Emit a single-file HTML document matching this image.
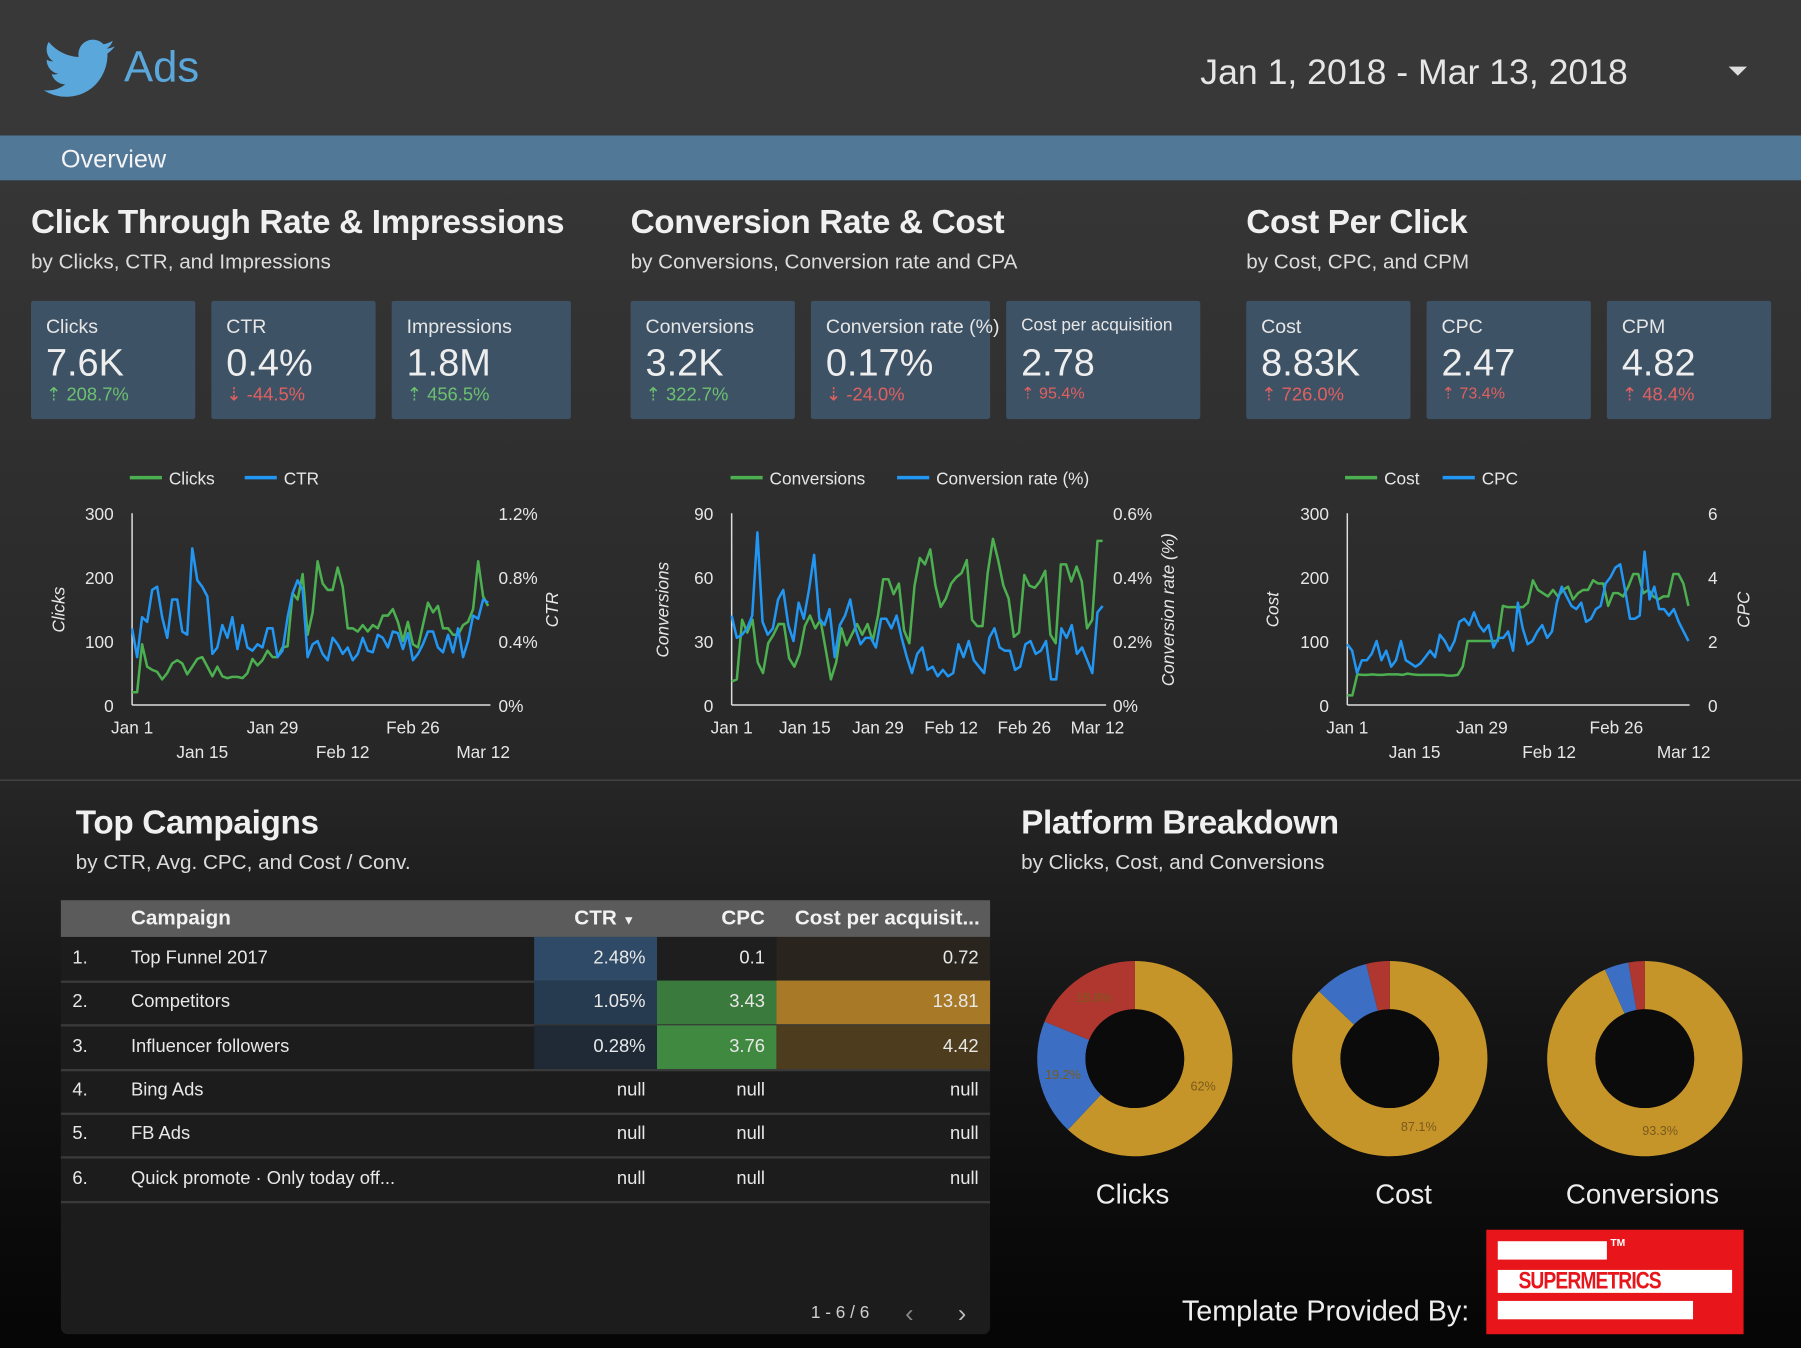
<!DOCTYPE html>
<html><head><meta charset="utf-8">
<style>
html,body{margin:0;padding:0;background:#0a0a0a;overflow:hidden;}
#root{position:absolute;left:0;top:0;width:1568px;height:1174px;transform:scale(1.14860,1.14821);transform-origin:0 0;
font-family:"Liberation Sans",sans-serif;color:#e8e8e8;
background:linear-gradient(#3a3a3a 0px,#2f2f2f 400px,#262626 680px,#141414 900px,#050505 1174px);overflow:hidden;}
.abs{position:absolute;}
.h2{font-size:29px;font-weight:bold;color:#f0f0f0;letter-spacing:-0.3px;}
.sub{font-size:18px;color:#dcdcdc;}
.card{position:absolute;top:262px;height:103px;background:#3e5265;border-radius:2px;}
.card .l{position:absolute;left:13px;top:13px;font-size:17px;color:#e6e6e6;white-space:nowrap;}
.card .v{position:absolute;left:13px;top:35px;font-size:33px;color:#eee;}
.card .d{position:absolute;left:13px;top:72px;font-size:16px;}
.up{color:#6cc070}.dn{color:#e06060}
svg text{font-family:"Liberation Sans",sans-serif;}
.row{position:absolute;left:53px;width:809px;height:38px;border-bottom:2px solid #3a3a3a;font-size:16px;}
.row div{position:absolute;top:0;height:38px;line-height:38px;}
</style></head><body>
<div id="root">
<div class="abs" style="left:0;top:0;width:1568px;height:118px;background:#383838"></div>
<svg class="abs" style="left:38px;top:34px" width="62" height="52" viewBox="0 0 24 20"><path fill="#5aa7db" d="M24 2.4a9.8 9.8 0 0 1-2.8.8A4.9 4.9 0 0 0 23.3.5a9.8 9.8 0 0 1-3.1 1.2A4.9 4.9 0 0 0 11.8 6 14 14 0 0 1 1.7.9a4.9 4.9 0 0 0 1.5 6.6 4.9 4.9 0 0 1-2.2-.6 4.9 4.9 0 0 0 3.9 4.8 4.9 4.9 0 0 1-2.2.1 4.9 4.9 0 0 0 4.6 3.4A9.9 9.9 0 0 1 0 17.2 14 14 0 0 0 7.5 19.4c9.1 0 14-7.5 14-14v-.6A10 10 0 0 0 24 2.4z"/></svg>
<div class="abs" style="left:108px;top:38px;font-size:38px;color:#5aa7db">Ads</div>
<div class="abs" style="left:1045px;top:45px;font-size:31px;color:#e6e6e6">Jan 1, 2018 - Mar 13, 2018</div>
<div class="abs" style="left:1505px;top:58px;width:0;height:0;border-left:8px solid transparent;border-right:8px solid transparent;border-top:8px solid #ddd"></div>
<div class="abs" style="left:0;top:118px;width:1568px;height:39px;background:#527898"></div>
<div class="abs" style="left:53px;top:126px;font-size:22px;color:#f4f4f4">Overview</div>

<div class="abs h2" style="left:27px;top:178px">Click Through Rate &amp; Impressions</div>
<div class="abs sub" style="left:27px;top:218px">by Clicks, CTR, and Impressions</div>
<div class="abs h2" style="left:549px;top:178px">Conversion Rate &amp; Cost</div>
<div class="abs sub" style="left:549px;top:218px">by Conversions, Conversion rate and CPA</div>
<div class="abs h2" style="left:1085px;top:178px">Cost Per Click</div>
<div class="abs sub" style="left:1085px;top:218px">by Cost, CPC, and CPM</div>

<div class="card" style="left:27px;width:143px"><div class="l">Clicks</div><div class="v">7.6K</div><div class="d up">⇡ 208.7%</div></div>
<div class="card" style="left:184px;width:143px"><div class="l">CTR</div><div class="v">0.4%</div><div class="d dn">⇣ -44.5%</div></div>
<div class="card" style="left:341px;width:156px"><div class="l">Impressions</div><div class="v">1.8M</div><div class="d up">⇡ 456.5%</div></div>
<div class="card" style="left:549px;width:143px"><div class="l">Conversions</div><div class="v">3.2K</div><div class="d up">⇡ 322.7%</div></div>
<div class="card" style="left:706px;width:156px"><div class="l">Conversion rate (%)</div><div class="v">0.17%</div><div class="d dn">⇣ -24.0%</div></div>
<div class="card" style="left:876px;width:169px"><div class="l" style="font-size:15px">Cost per acquisition</div><div class="v">2.78</div><div class="d dn" style="font-size:14px">⇡ 95.4%</div></div>
<div class="card" style="left:1085px;width:143px"><div class="l">Cost</div><div class="v">8.83K</div><div class="d dn">⇡ 726.0%</div></div>
<div class="card" style="left:1242px;width:143px"><div class="l">CPC</div><div class="v">2.47</div><div class="d dn" style="font-size:14px">⇡ 73.4%</div></div>
<div class="card" style="left:1399px;width:143px"><div class="l">CPM</div><div class="v">4.82</div><div class="d dn">⇡ 48.4%</div></div>

<svg id="charts" class="abs" style="left:0;top:0" width="1568" height="680"></svg>

<div class="abs" style="left:0;top:679px;width:1568px;height:1px;background:#4a4a4a"></div>

<div class="abs h2" style="left:66px;top:701px">Top Campaigns</div>
<div class="abs sub" style="left:66px;top:741px">by CTR, Avg. CPC, and Cost / Conv.</div>
<div class="abs h2" style="left:889px;top:701px">Platform Breakdown</div>
<div class="abs sub" style="left:889px;top:741px">by Clicks, Cost, and Conversions</div>

<div class="abs" style="left:53px;top:784px;width:809px;height:378px;background:#1c1c1c;border-radius:0 0 6px 6px"></div>
<div class="abs" style="left:53px;top:784px;width:809px;height:32px;background:#5b5b5b;font-size:18px;font-weight:bold;color:#f2f2f2">
<div class="abs" style="left:61px;top:5px">Campaign</div>
<div class="abs" style="left:447px;top:5px">CTR <span style="font-size:11px">▼</span></div>
<div class="abs" style="left:575px;top:5px">CPC</div>
<div class="abs" style="left:639px;top:5px">Cost per acquisit...</div>
</div>
<div id="rows"></div>
<div class="abs" style="left:706px;top:1135px;font-size:15px;color:#cfcfcf">1 - 6 / 6</div>
<div class="abs" style="left:788px;top:1131px;font-size:22px;color:#888">‹</div>
<div class="abs" style="left:834px;top:1131px;font-size:22px;color:#bbb">›</div>

<svg id="donuts" class="abs" style="left:880px;top:800px" width="680" height="270"></svg>

<div class="abs" style="left:1029px;top:1128px;font-size:25px;color:#eee">Template Provided By:</div>
<div class="abs" style="left:1294px;top:1071px;width:224px;height:91px;background:#e8151b">
<div class="abs" style="left:10px;top:10px;width:95px;height:16px;background:#fff"></div>
<div class="abs" style="left:108px;top:6px;font-size:9px;color:#fff;font-weight:bold">TM</div>
<div class="abs" style="left:10px;top:35px;width:204px;height:20px;background:#fff"></div>
<div class="abs" style="left:28px;top:33px;font-size:21px;font-weight:bold;color:#e8151b;letter-spacing:-1px;transform:scaleX(0.8);transform-origin:0 0">SUPERMETRICS</div>
<div class="abs" style="left:10px;top:62px;width:170px;height:16px;background:#fff"></div>
</div>
</div>
<script>
const clicks=[20,20,95,60,55,52,40,50,65,70,65,48,60,72,75,60,45,60,45,42,44,44,42,50,72,62,70,85,75,75,90,92,175,165,205,110,145,225,190,180,180,215,185,120,120,115,125,115,125,120,140,140,150,130,100,130,95,90,125,160,145,155,120,120,110,110,125,130,150,225,170,155];
const ctr=[0.48,0.3,0.55,0.52,0.72,0.74,0.55,0.42,0.66,0.66,0.46,0.44,0.98,0.78,0.74,0.68,0.32,0.36,0.5,0.42,0.55,0.35,0.5,0.36,0.34,0.38,0.36,0.48,0.48,0.3,0.34,0.55,0.7,0.78,0.72,0.3,0.38,0.4,0.32,0.28,0.42,0.38,0.32,0.36,0.28,0.32,0.42,0.34,0.33,0.44,0.42,0.36,0.46,0.45,0.35,0.45,0.28,0.32,0.38,0.46,0.46,0.36,0.33,0.44,0.33,0.48,0.3,0.4,0.56,0.54,0.66,0.64];
const conversions=[11,12,40,34,40,20,15,29,33,38,38,22,18,24,37,42,36,40,26,12,20,36,28,33,38,33,38,30,42,59,59,52,57,35,29,56,69,66,73,56,46,50,57,60,62,68,40,37,37,62,78,68,56,50,32,34,61,56,55,58,63,33,29,66,66,58,65,58,36,40,77,77];
const convRate=[0.28,0.21,0.22,0.24,0.28,0.54,0.26,0.22,0.24,0.33,0.36,0.25,0.2,0.32,0.27,0.36,0.47,0.27,0.25,0.3,0.15,0.25,0.28,0.33,0.24,0.19,0.21,0.21,0.18,0.27,0.27,0.24,0.28,0.21,0.15,0.1,0.16,0.18,0.11,0.12,0.09,0.11,0.09,0.1,0.19,0.15,0.2,0.14,0.12,0.1,0.21,0.24,0.18,0.17,0.17,0.11,0.12,0.19,0.2,0.16,0.17,0.2,0.08,0.08,0.24,0.21,0.25,0.16,0.18,0.14,0.1,0.29,0.31];
const cost=[15,15,48,47,47,48,47,47,48,48,48,47,49,48,47,47,47,47,47,47,46,46,47,60,100,100,100,100,100,100,100,155,153,153,153,153,160,195,180,175,170,180,170,180,185,165,175,180,180,195,190,190,155,175,175,170,185,205,205,175,180,170,165,170,170,205,205,190,155];
const cpc=[1.9,1.7,1.0,1.4,1.4,1.6,2.0,1.4,1.7,1.2,1.4,2.0,1.4,1.3,1.2,1.3,1.5,1.7,1.5,2.2,2.0,1.7,2.0,2.6,2.7,2.5,2.9,2.5,2.3,2.5,1.8,2.1,2.1,2.3,1.7,3.2,2.4,1.9,2.0,2.3,2.5,2.1,2.3,3.2,3.7,3.4,3.1,3.0,3.2,2.6,2.7,3.0,3.1,3.8,4.0,4.3,4.4,3.6,2.7,2.7,2.8,4.8,3.3,3.7,3.0,3.0,2.8,3.0,2.6,2.3,2.0];
const ctrLeftTicks=["0","100","200","300"], ctrRightTicks=["0%","0.4%","0.8%","1.2%"];
const convLeftTicks=["0","30","60","90"], convRightTicks=["0%","0.2%","0.4%","0.6%"];
const costLeftTicks=["0","100","200","300"], costRightTicks=["0","2","4","6"];
const dateLabels=["Jan 1","Jan 15","Jan 29","Feb 12","Feb 26","Mar 12"];
const dateDays=[0,14,28,42,56,70];

const NS="http://www.w3.org/2000/svg";
const svg=document.getElementById('charts');
function mk(tag,attrs,parent){const e=document.createElementNS(NS,tag);for(const k in attrs)e.setAttribute(k,attrs[k]);(parent||svg).appendChild(e);return e;}
function txt(x,y,s,anchor,size,parent,extra){const t=mk('text',Object.assign({x:x,y:y,'text-anchor':anchor,'font-size':size,fill:'#e6e6e6'},extra||{}),parent);t.textContent=s;return t;}
function chart(cfg){
  const g=mk('g',{});
  
  
  const x0=cfg.x0,x1=cfg.x1,yB=614,yT=447,days=71;
  const xs=d=>x0+(x1-x0)*d/days;
  const yl=v=>yB-(yB-yT)*v/cfg.lmax, yr=v=>yB-(yB-yT)*v/cfg.rmax;
  mk('line',{x1:x0,y1:yB,x2:cfg.axEnd,y2:yB,stroke:'#ddd','stroke-width':1.3},g);
  mk('line',{x1:x0,y1:yT,x2:x0,y2:yB,stroke:'#ddd','stroke-width':1.3},g);
  cfg.lt.forEach((s,i)=>txt(x0-16,yB-(yB-yT)*i/3+6,s,'end',15,g));
  cfg.rt.forEach((s,i)=>txt(cfg.rx,yB-(yB-yT)*i/3+6,s,'start',15,g));
  dateLabels.forEach((s,i)=>{if(cfg.alt){txt(xs(dateDays[i]),i%2?660:639,s,'middle',15,g);}else txt(xs(dateDays[i]),639,s,'middle',15,g);});
  const line=(arr,fy,col,nm)=>{const p=arr.map((v,i)=>xs(i*days/(arr.length-1)).toFixed(1)+','+fy(v).toFixed(1)).join(' ');const pl=mk('polyline',{points:p,fill:'none',stroke:col,'stroke-width':2.2,'stroke-linejoin':'round'},g);};
  line(cfg.a,yl,'#4caf50',cfg.an);line(cfg.b,yr,'#2196f3',cfg.bn);
  txt(cfg.ylx,531,cfg.yl,'middle',15,g,{'font-style':'italic',transform:'rotate(-90 '+cfg.ylx+' 531)'});
  txt(cfg.yrx,cfg.yry||531,cfg.yr,'middle',15,g,{'font-style':'italic',transform:'rotate(-90 '+cfg.yrx+' '+(cfg.yry||531)+')'});
  mk('line',{x1:cfg.lgx,y1:416,x2:cfg.lgx+28,y2:416,stroke:'#4caf50','stroke-width':3},g);
  txt(cfg.lgx+34,422,cfg.ln1,'start',15,g);
  mk('line',{x1:cfg.lgx2,y1:416,x2:cfg.lgx2+28,y2:416,stroke:'#2196f3','stroke-width':3},g);
  txt(cfg.lgx2+34,422,cfg.ln2,'start',15,g);
}
chart({name:'ctr-chart',x0:115,x1:425,axEnd:427,lmax:300,rmax:1.2,lt:ctrLeftTicks,rt:ctrRightTicks,rx:434,a:clicks,b:ctr,an:'clicks-line',bn:'ctr-line',alt:true,ylx:56,yl:'Clicks',yrx:486,yr:'CTR',lgx:113,lgx2:213,ln1:'Clicks',ln2:'CTR'});
chart({name:'conversion-chart',x0:637,x1:960,axEnd:963,lmax:90,rmax:0.6,lt:convLeftTicks,rt:convRightTicks,rx:969,a:conversions,b:convRate,an:'conversions-line',bn:'conversion-rate-line',alt:false,ylx:582,yl:'Conversions',yrx:1022,yry:531,yr:'Conversion rate (%)',lgx:636,lgx2:781,ln1:'Conversions',ln2:'Conversion rate (%)'});
chart({name:'cost-chart',x0:1173,x1:1470,axEnd:1471,lmax:300,rmax:6,lt:costLeftTicks,rt:costRightTicks,rx:1487,a:cost,b:cpc,an:'cost-line',bn:'cpc-line',alt:true,ylx:1113,yl:'Cost',yrx:1523,yr:'CPC',lgx:1171,lgx2:1256,ln1:'Cost',ln2:'CPC'});

// table
const campaigns=["Top Funnel 2017","Competitors","Influencer followers","Bing Ads","FB Ads","Quick promote · Only today off..."];
const ctrVals=["2.48%","1.05%","0.28%","null","null","null"];
const cpcVals=["0.1","3.43","3.76","null","null","null"];
const cpaVals=["0.72","13.81","4.42","null","null","null"];
const ctrBg=["#2f4a66","#263a50","#1f2a36","","",""];
const cpcBg=["#1e1e1e","#3a7a3c","#3f8a40","","",""];
const cpaBg=["#29251e","#a87a28","#4d3c1e","","",""];
const rows=document.getElementById('rows');
campaigns.forEach((c,i)=>{
  const r=document.createElement('div');r.className='row';r.style.top=(816+i*38.3)+'px';
  
  
  r.innerHTML='<div style="left:10px">'+(i+1)+'.</div><div style="left:61px;white-space:nowrap">'+c+'</div>'+
  '<div style="left:412px;width:107px;text-align:right;background:'+(ctrBg[i]||'transparent')+'"><span style="padding-right:10px">'+ctrVals[i]+'</span></div>'+
  '<div style="left:519px;width:104px;text-align:right;background:'+(cpcBg[i]||'transparent')+'"><span style="padding-right:10px">'+cpcVals[i]+'</span></div>'+
  '<div style="left:623px;width:186px;text-align:right;background:'+(cpaBg[i]||'transparent')+'"><span style="padding-right:10px">'+cpaVals[i]+'</span></div>';
  rows.appendChild(r);
});

// donuts
const donutNames=["Clicks","Cost","Conversions"];
const goldShare=[62,87.1,93.3], blueShare=[19.2,9.0,4.0], redShare=[18.8,3.9,2.7];
const labelX=[106,342,550];
const dsvg=document.getElementById('donuts');
function arc(cx,cy,R,r,a0,a1){const p=(a,rad)=>[cx+rad*Math.sin(a),cy-rad*Math.cos(a)];const lg=(a1-a0)>Math.PI?1:0;
 const [x0,y0]=p(a0,R),[x1,y1]=p(a1,R),[x2,y2]=p(a1,r),[x3,y3]=p(a0,r);
 return `M${x0} ${y0}A${R} ${R} 0 ${lg} 1 ${x1} ${y1}L${x2} ${y2}A${r} ${r} 0 ${lg} 0 ${x3} ${y3}Z`;}
donutNames.forEach((n,i)=>{
  const cx=108+i*222,cy=122,R=85,r=43;
  const g=document.createElementNS(NS,'g');dsvg.appendChild(g);
  
  
  let a=0;const segs=[[goldShare[i],'#c6952a'],[blueShare[i],'#3c6fc4'],[redShare[i],'#b0372f']];
  segs.forEach(([v,c])=>{const a1=a+v/100*2*Math.PI;const p=mk('path',{d:arc(cx,cy,R,r,a,a1),fill:c},g);
    if(v>10){const m=(a+a1)/2;txt(cx+64*Math.sin(m),cy-64*Math.cos(m)+4,(v%1?v.toFixed(1):v)+'%','middle',11,g,{fill:'#7a5a1c'});}a=a1;});
  mk('circle',{cx:cx,cy:cy,r:r,fill:'#0b0b0b'},g);
  txt(labelX[i],248,n,'middle',24,g,{fill:'#eee'});
});
</script>
</body></html>
